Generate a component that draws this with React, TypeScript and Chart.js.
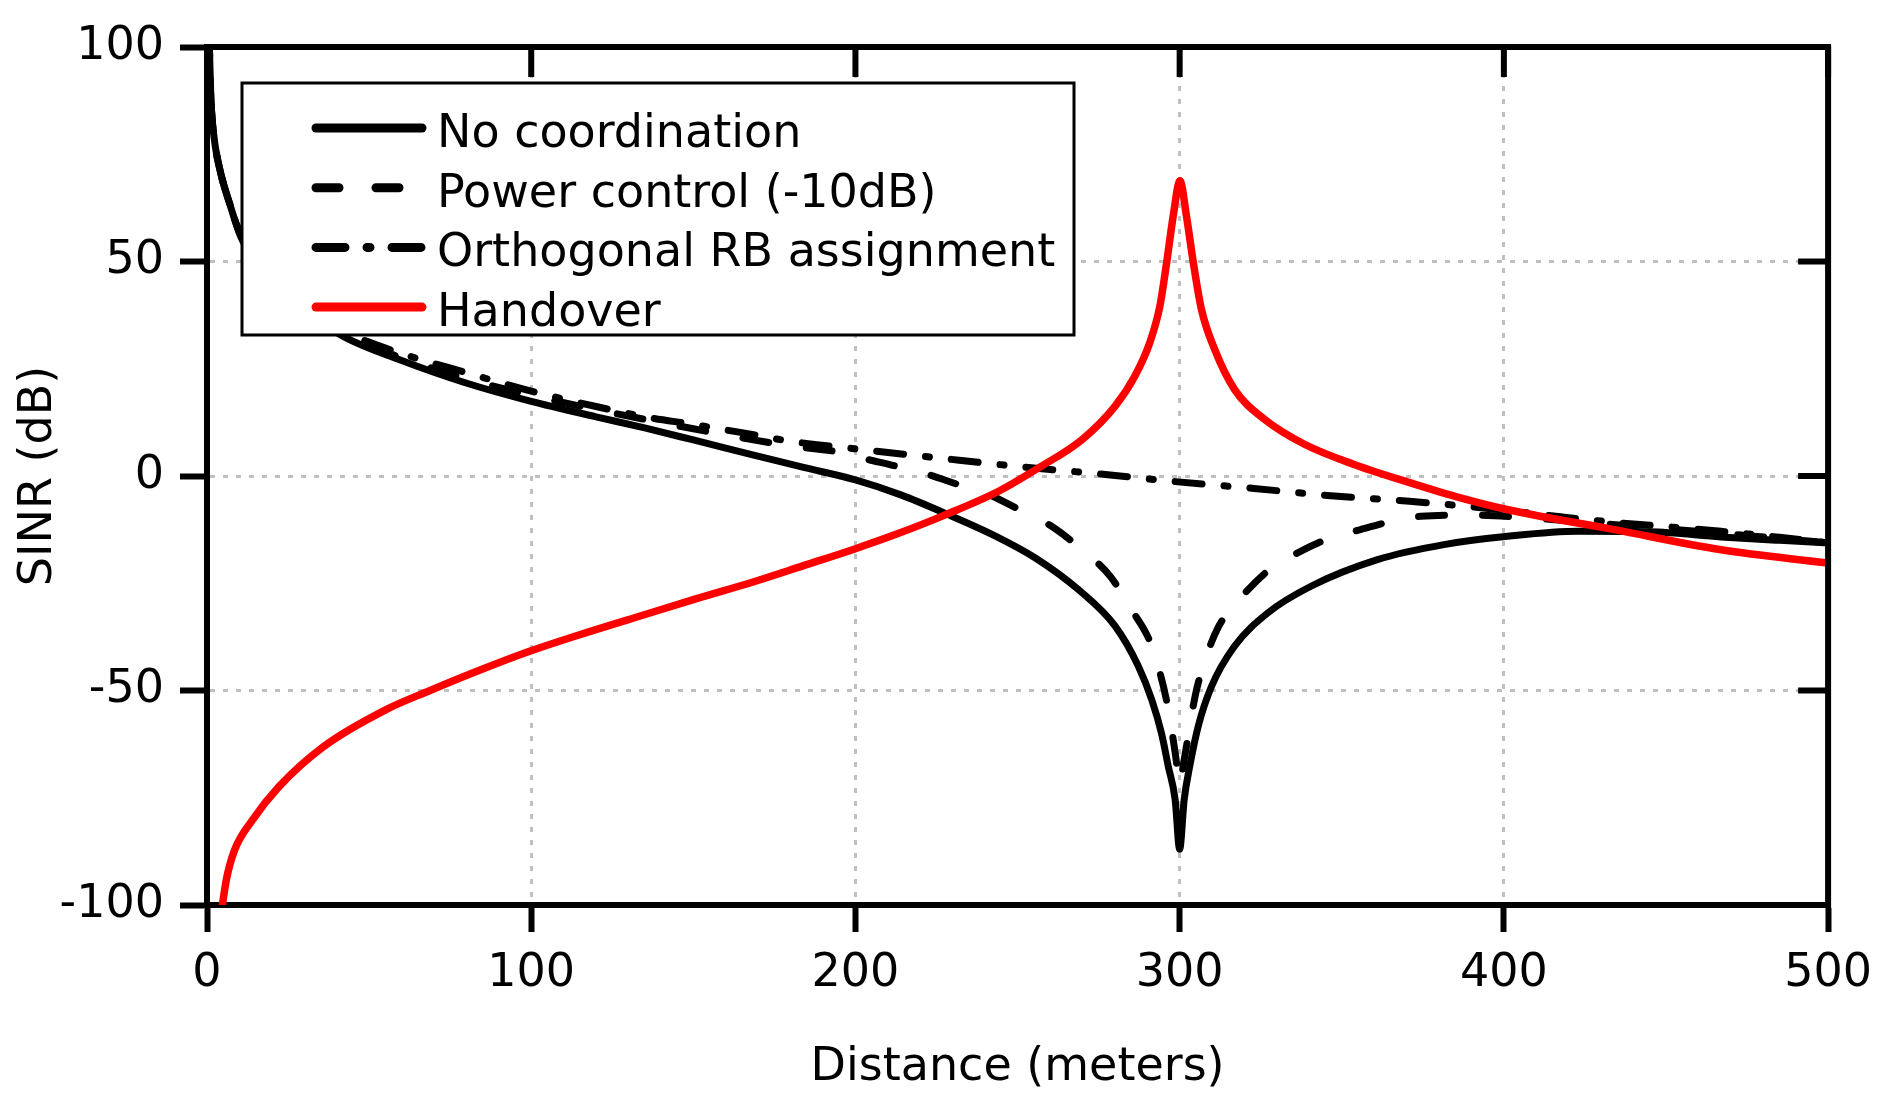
import { useEffect, useRef } from 'react';
import { Chart, registerables } from 'chart.js';

Chart.register(...registerables);

// distance (m) / SINR (dB)
const noCoordX = [0.6, 1.2, 2, 3.7, 7.2, 10.3, 15, 20, 30, 42.6, 59, 79.4, 100, 120, 135, 150, 168, 184, 200, 214, 228, 243.2, 255.5, 268.8, 280.1, 287.3, 291.4, 294.4, 296.5, 298.6, 300, 301.4, 303.1, 305.7, 309.8, 316.9, 327.2, 340.5, 361, 381.5, 401.9, 423, 445, 467, 485, 500];
const noCoordY = [104, 88, 80, 72.3, 63, 56, 50, 45.5, 38.5, 32.3, 27.2, 21.8, 17.4, 13.8, 11.2, 8.4, 5, 2, -0.9, -4.4, -8.8, -14, -19.1, -26.5, -35, -44.4, -52.2, -60, -67.7, -75.4, -87, -75.4, -67.7, -58.4, -49.1, -39.7, -31.9, -25.7, -19.5, -16, -14, -12.9, -13, -14.2, -15, -15.6];

const powerCtrlX = [0.6, 1.2, 2, 3.7, 7.2, 10.3, 15, 20, 30, 42.6, 59, 79.4, 100, 120, 135, 150, 165, 180, 194, 203, 212.5, 222.4, 231.7, 241.1, 250.4, 259.6, 269.3, 278.6, 285.2, 290.8, 293.6, 296, 297.5, 298.8, 300, 301.3, 302.1, 303.4, 305, 307.7, 311.8, 317.9, 327.7, 336.4, 346.6, 355.8, 365.6, 374.3, 389, 405, 425, 450, 475, 500];
const powerCtrlY = [104, 88, 80, 72.3, 63, 56.3, 50.5, 46, 39, 32.8, 27.8, 22.8, 18.8, 15.5, 13.2, 11, 8.9, 7, 5.7, 4, 2.3, 0.35, -2, -4.3, -7.8, -11.3, -16.8, -23.4, -31.2, -38.5, -45, -52.5, -59, -65.5, -72, -66.5, -63, -57, -50.5, -43.2, -35.4, -29.2, -21.8, -17.9, -14.4, -12.5, -10.5, -9.4, -9.1, -9.6, -10.8, -12.3, -13.9, -15.6];

const orthoX = [0.6, 1.2, 2, 3.7, 7.2, 10.3, 15, 20, 30, 42.6, 59, 79.4, 100, 120, 135, 150, 165, 180, 204, 228, 250.5, 275, 298.5, 322.9, 346.6, 370.9, 394.4, 417.5, 434, 450, 467, 485, 500];
const orthoY = [104, 88, 80, 72.3, 63, 56.5, 51, 46.5, 39.5, 33.6, 28.8, 24.2, 19.8, 16.2, 13.8, 12, 10.1, 8.1, 6, 4, 2.2, 0.5, -1.3, -2.9, -4.6, -5.9, -7.5, -9.5, -10.8, -11.8, -12.9, -14.3, -15.6];

const handoverX = [4, 6, 8.5, 14, 22.2, 35.9, 55.1, 68.8, 85, 99.7, 117, 134.6, 151, 168.9, 184, 199.8, 212.5, 227.9, 244.3, 256.5, 269.9, 280.1, 286.2, 290.8, 293.9, 296, 298, 300.1, 302.1, 304.2, 306.7, 310.8, 316.9, 326.2, 338.5, 353.8, 371.2, 386.6, 400.9, 434.1, 467, 500];
const handoverY = [-104, -94, -87.2, -80.2, -72.4, -63.1, -54.5, -50, -45, -40.8, -36.5, -32.4, -28.6, -24.6, -20.9, -17, -13.6, -9, -3.5, 1.9, 8.5, 16.3, 23.3, 31.1, 39.6, 49.8, 60.6, 68.8, 60.6, 49.8, 38.9, 29.5, 20.2, 13.2, 7.4, 2.7, -1.6, -5.1, -7.8, -12.5, -17.2, -20.3];

const seriesLabels = ['No coordination', 'Power control (-10dB)', 'Orthogonal RB assignment', 'Handover'];
const xTicks = [0, 100, 200, 300, 400, 500];
const yTicks = [-100, -50, 0, 50, 100];

const FONT = '"DejaVu Sans", Verdana, sans-serif';
const dashPc = [26, 38];
const dashOrtho = [27, 22, 4, 22];
const legendDash = [[], [23, 37], [29, 22, 3, 22], []];

const pts = (xs: number[], ys: number[]) => xs.map((x, i) => ({ x, y: ys[i] }));

// top / right frame with inward ticks
const framePlugin = {
  id: 'frame',
  afterDatasetsDraw(chart: any) {
    const { ctx, chartArea, scales } = chart;
    const { left, right, top, bottom } = chartArea;
    ctx.save();
    ctx.strokeStyle = '#000';
    ctx.lineWidth = 6;
    ctx.lineCap = 'square';
    ctx.beginPath();
    ctx.moveTo(left, top);
    ctx.lineTo(right, top);
    ctx.lineTo(right, bottom);
    ctx.stroke();
    ctx.lineCap = 'butt';
    ctx.beginPath();
    xTicks.forEach((v) => {
      const px = scales.x.getPixelForValue(v);
      ctx.moveTo(px, top);
      ctx.lineTo(px, top + 30);
    });
    yTicks.forEach((v) => {
      const py = scales.y.getPixelForValue(v);
      ctx.moveTo(right, py);
      ctx.lineTo(right - 30, py);
    });
    ctx.stroke();
    ctx.restore();
  },
};

const legendPlugin = {
  id: 'boxLegend',
  afterDatasetsDraw(chart: any) {
    const { ctx, chartArea } = chart;
    const x0 = chartArea.left + 35;
    const y0 = chartArea.top + 36;
    ctx.save();
    ctx.fillStyle = '#fff';
    ctx.fillRect(x0, y0, 832, 252);
    ctx.strokeStyle = '#000';
    ctx.lineWidth = 3;
    ctx.strokeRect(x0, y0, 832, 252);
    chart.data.datasets.forEach((ds: any, i: number) => {
      const cy = y0 + 45 + i * 59.7;
      ctx.beginPath();
      ctx.lineWidth = 9;
      ctx.lineCap = 'round';
      ctx.strokeStyle = ds.borderColor;
      ctx.setLineDash(legendDash[i]);
      ctx.moveTo(x0 + 74, cy);
      ctx.lineTo(x0 + 180, cy);
      ctx.stroke();
      ctx.setLineDash([]);
      ctx.fillStyle = '#000';
      ctx.font = `46px ${FONT}`;
      ctx.textBaseline = 'alphabetic';
      ctx.textAlign = 'left';
      ctx.fillText(ds.label, x0 + 195, cy + 19);
    });
    ctx.restore();
  },
};

const App = () => {
  const canvasRef = useRef<HTMLCanvasElement | null>(null);
  const chartRef = useRef<Chart | null>(null);

  useEffect(() => {
    if (!canvasRef.current) return;
    if (chartRef.current) chartRef.current.destroy();

    const base = {
      pointRadius: 0,
      borderWidth: 7,
      borderCapStyle: 'round',
      borderJoinStyle: 'round',
      cubicInterpolationMode: 'monotone',
      fill: false,
    };

    chartRef.current = new Chart(canvasRef.current, {
      type: 'line',
      data: {
        datasets: [
          { ...base, label: seriesLabels[0], data: pts(noCoordX, noCoordY), borderColor: '#000', order: 3 },
          { ...base, label: seriesLabels[1], data: pts(powerCtrlX, powerCtrlY), borderColor: '#000', borderDash: dashPc, order: 2 },
          { ...base, label: seriesLabels[2], data: pts(orthoX, orthoY), borderColor: '#000', borderDash: dashOrtho, order: 1 },
          { ...base, label: seriesLabels[3], data: pts(handoverX, handoverY), borderColor: '#ff0000', borderWidth: 7.5, order: 0 },
        ] as any,
      },
      options: {
        animation: false,
        responsive: false,
        devicePixelRatio: 1,
        layout: { padding: { top: 47, right: 50, left: 0, bottom: 0 } },
        plugins: { legend: { display: false }, tooltip: { enabled: false } },
        scales: {
          x: {
            type: 'linear',
            min: 0,
            max: 500,
            afterFit: (s: any) => { s.height = 201; },
            afterBuildTicks: (s: any) => { s.ticks = xTicks.map((v) => ({ value: v })); },
            ticks: { color: '#000', font: { family: FONT, size: 46 }, padding: 14, maxRotation: 0 },
            grid: { color: '#c0c0c0', lineWidth: 3, tickColor: '#000', tickWidth: 6, tickLength: 27, tickBorderDash: [] },
            border: { color: '#000', width: 6, dash: [5, 8] },
            title: { display: true, text: 'Distance (meters)', color: '#000', font: { family: FONT, size: 46 }, padding: { top: 0, bottom: 10 } },
          },
          y: {
            type: 'linear',
            min: -100,
            max: 100,
            afterFit: (s: any) => { s.width = 207; },
            afterBuildTicks: (s: any) => { s.ticks = yTicks.map((v) => ({ value: v })); },
            ticks: { color: '#000', font: { family: FONT, size: 46 }, padding: 16 },
            grid: { color: '#c0c0c0', lineWidth: 3, tickColor: '#000', tickWidth: 6, tickLength: 27, tickBorderDash: [] },
            border: { color: '#000', width: 6, dash: [5, 8] },
            title: { display: true, text: 'SINR (dB)', color: '#000', font: { family: FONT, size: 46 }, padding: { top: 11, bottom: 0 } },
          },
        },
      } as any,
      plugins: [framePlugin, legendPlugin],
    });

    return () => {
      if (chartRef.current) {
        chartRef.current.destroy();
        chartRef.current = null;
      }
    };
  }, []);

  return (
    <div style={{ position: 'absolute', left: 0, top: 0, width: 1886, height: 1106, background: '#fff' }}>
      <canvas ref={canvasRef} width={1886} height={1106} style={{ width: 1886, height: 1106 }} />
    </div>
  );
};

export default App;
